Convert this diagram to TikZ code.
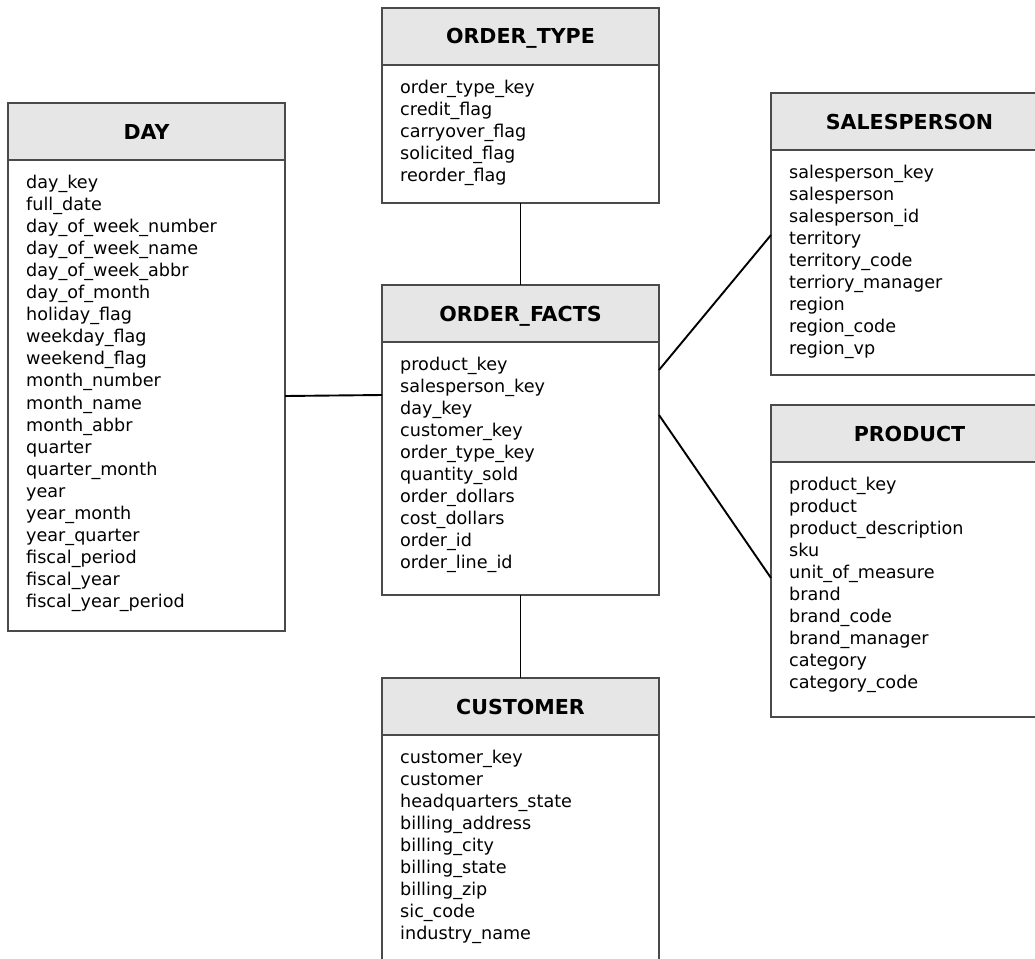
\documentclass[tikz,border=0pt]{standalone}
\usepackage{fontspec}
\setmainfont{DejaVu Sans}
\definecolor{boxgray}{HTML}{4A4A4A}
\definecolor{headgray}{HTML}{E6E6E6}
\tikzset{
  tablebox/.style={draw=boxgray, line width=1.3pt, fill=white, anchor=north west,
    minimum width=277pt, inner sep=0pt, outer sep=0pt},
  tablehead/.style={draw=boxgray, line width=1.3pt, fill=headgray, anchor=north west,
    minimum width=277pt, minimum height=57pt, inner sep=0pt, outer sep=0pt,
    text height=15pt, text depth=0pt,
    font=\fontsize{20.6}{24}\selectfont\bfseries},
  field/.style={anchor=base west, inner sep=0pt, font=\fontsize{17.6}{22}\selectfont},
  link/.style={draw=black, line width=1.9pt}
}
% #1 name, #2 left x, #3 top y, #4 height, #5 title, #6 list of columns
\newcommand\dbtable[6]{%
  \node[tablebox, minimum height=#4pt] (#1) at (#2,#3) {};
  \node[tablehead] (#1-head) at (#2,#3) {#5};
  \foreach \f [count=\i] in {#6}
    \node[field] (#1-f\i) at ({#2+18}, {#3+85+(\i-1)*22.1}) {\f};
}
\begin{document}
\begin{tikzpicture}[x=1pt, y=-1pt]
\clip (0,0) rectangle (1035,958);
\fill[white] (0,0) rectangle (1035,958);

\dbtable{ot}{382}{8}{195}{ORDER\_TYPE}{order\_type\_key, credit\_flag, carryover\_flag,
  solicited\_flag, reorder\_flag}

\dbtable{day}{8}{103}{528}{DAY}{day\_key, full\_date, day\_of\_week\_number,
  day\_of\_week\_name, day\_of\_week\_abbr, day\_of\_month, holiday\_flag,
  weekday\_flag, weekend\_flag, month\_number, month\_name, month\_abbr, quarter,
  quarter\_month, year, year\_month, year\_quarter, fiscal\_period, fiscal\_year,
  fiscal\_year\_period}

\dbtable{sp}{771}{93}{282}{SALESPERSON}{salesperson\_key, salesperson,
  salesperson\_id, territory, territory\_code, terriory\_manager, region,
  region\_code, region\_vp}

\dbtable{pr}{771}{405}{312}{PRODUCT}{product\_key, product, product\_description,
  sku, unit\_of\_measure, brand, brand\_code, brand\_manager, category,
  category\_code}

\dbtable{ft}{382}{285}{310}{ORDER\_FACTS}{product\_key, salesperson\_key, day\_key,
  customer\_key, order\_type\_key, quantity\_sold, order\_dollars, cost\_dollars,
  order\_id, order\_line\_id}

\dbtable{cu}{382}{678}{300}{CUSTOMER}{customer\_key, customer, headquarters\_state,
  billing\_address, billing\_city, billing\_state, billing\_zip, sic\_code,
  industry\_name}

% relationships between the fact table and its dimensions
\draw[link] (ot) -- (ft);
\draw[link] ([yshift=-29pt]day.east) -- ([yshift=45pt]ft.west);
\draw[link] ([yshift=70pt]ft.east) -- ([yshift=-1pt]sp.west);
\draw[link] ([yshift=25pt]ft.east) -- ([yshift=-17pt]pr.west);
\draw[link] (ft) -- (cu);
\end{tikzpicture}
\end{document}
